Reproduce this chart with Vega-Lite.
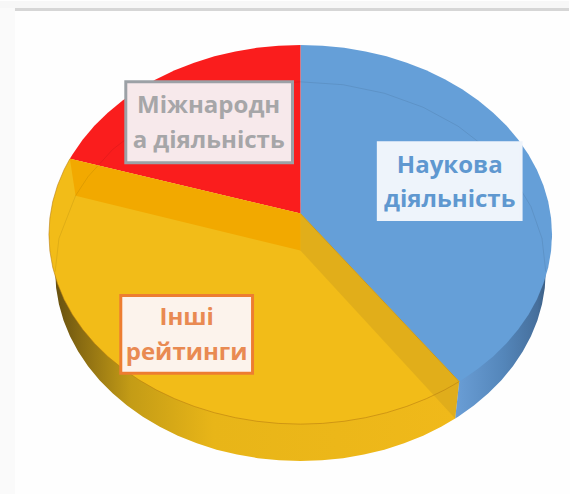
{"$schema":"https://vega.github.io/schema/vega-lite/v6.json","width":570,"height":494,"autosize":{"type":"fit","contains":"padding"},"padding":0,"background":"#FEFEFE","config":{"view":{"stroke":null}},
"datasets":{
"outline":[
{"part":"wallY","i":0,"x":-1,"y":0},{"part":"wallY","i":1,"x":-0.975,"y":-0.1947},{"part":"wallY","i":2,"x":-0.9713,"y":-0.2819},{"part":"wallY","i":3,"x":-0.9602,"y":-0.3683},{"part":"wallY","i":4,"x":-0.9418,"y":-0.4535},{"part":"wallY","i":5,"x":-0.9162,"y":-0.5367},{"part":"wallY","i":6,"x":-0.8836,"y":-0.6173},{"part":"wallY","i":7,"x":-0.8444,"y":-0.6947},{"part":"wallY","i":8,"x":-0.7987,"y":-0.7683},{"part":"wallY","i":9,"x":-0.7469,"y":-0.8375},{"part":"wallY","i":10,"x":-0.6894,"y":-0.9018},{"part":"wallY","i":11,"x":-0.6267,"y":-0.9607},{"part":"wallY","i":12,"x":-0.5593,"y":-1.0139},{"part":"wallY","i":13,"x":-0.4875,"y":-1.0607},{"part":"wallY","i":14,"x":-0.412,"y":-1.101},{"part":"wallY","i":15,"x":-0.3335,"y":-1.1344},{"part":"wallY","i":16,"x":-0.2523,"y":-1.1606},{"part":"wallY","i":17,"x":-0.1693,"y":-1.1795},{"part":"wallY","i":18,"x":-0.085,"y":-1.1909},{"part":"wallY","i":19,"x":0,"y":-1.1947},{"part":"wallY","i":20,"x":0.085,"y":-1.1909},{"part":"wallY","i":21,"x":0.1693,"y":-1.1795},{"part":"wallY","i":22,"x":0.2523,"y":-1.1606},{"part":"wallY","i":23,"x":0.3335,"y":-1.1344},{"part":"wallY","i":24,"x":0.412,"y":-1.101},{"part":"wallY","i":25,"x":0.4875,"y":-1.0607},{"part":"wallY","i":26,"x":0.5593,"y":-1.0139},{"part":"wallY","i":27,"x":0.615,"y":-0.9704},{"part":"wallY","i":28,"x":0.631,"y":-0.7757},
{"part":"wallB","i":0,"x":0.631,"y":-0.7757},{"part":"wallB","i":1,"x":0.615,"y":-0.9704},{"part":"wallB","i":2,"x":0.6267,"y":-0.9607},{"part":"wallB","i":3,"x":0.6894,"y":-0.9018},{"part":"wallB","i":4,"x":0.7469,"y":-0.8375},{"part":"wallB","i":5,"x":0.7987,"y":-0.7683},{"part":"wallB","i":6,"x":0.8444,"y":-0.6947},{"part":"wallB","i":7,"x":0.8836,"y":-0.6173},{"part":"wallB","i":8,"x":0.9162,"y":-0.5367},{"part":"wallB","i":9,"x":0.9418,"y":-0.4535},{"part":"wallB","i":10,"x":0.9602,"y":-0.3683},{"part":"wallB","i":11,"x":0.9713,"y":-0.2819},{"part":"wallB","i":12,"x":0.975,"y":-0.1947},{"part":"wallB","i":13,"x":1,"y":0},
{"part":"blue","i":0,"x":0,"y":0.1105},{"part":"blue","i":1,"x":0,"y":1},{"part":"blue","i":2,"x":0.0872,"y":0.9962},{"part":"blue","i":3,"x":0.1736,"y":0.9848},{"part":"blue","i":4,"x":0.2588,"y":0.9659},{"part":"blue","i":5,"x":0.342,"y":0.9397},{"part":"blue","i":6,"x":0.4226,"y":0.9063},{"part":"blue","i":7,"x":0.5,"y":0.866},{"part":"blue","i":8,"x":0.5736,"y":0.8192},{"part":"blue","i":9,"x":0.6428,"y":0.766},{"part":"blue","i":10,"x":0.7071,"y":0.7071},{"part":"blue","i":11,"x":0.766,"y":0.6428},{"part":"blue","i":12,"x":0.8192,"y":0.5736},{"part":"blue","i":13,"x":0.866,"y":0.5},{"part":"blue","i":14,"x":0.9063,"y":0.4226},{"part":"blue","i":15,"x":0.9397,"y":0.342},{"part":"blue","i":16,"x":0.9659,"y":0.2588},{"part":"blue","i":17,"x":0.9848,"y":0.1736},{"part":"blue","i":18,"x":0.9962,"y":0.0872},{"part":"blue","i":19,"x":1,"y":0},{"part":"blue","i":20,"x":0.9962,"y":-0.0872},{"part":"blue","i":21,"x":0.9848,"y":-0.1736},{"part":"blue","i":22,"x":0.9659,"y":-0.2588},{"part":"blue","i":23,"x":0.9397,"y":-0.342},{"part":"blue","i":24,"x":0.9063,"y":-0.4226},{"part":"blue","i":25,"x":0.866,"y":-0.5},{"part":"blue","i":26,"x":0.8192,"y":-0.5736},{"part":"blue","i":27,"x":0.766,"y":-0.6428},{"part":"blue","i":28,"x":0.7071,"y":-0.7071},{"part":"blue","i":29,"x":0.6428,"y":-0.766},{"part":"blue","i":30,"x":0.631,"y":-0.7757},
{"part":"red","i":0,"x":0,"y":0.1105},{"part":"red","i":1,"x":0,"y":1},{"part":"red","i":2,"x":-0.0872,"y":0.9962},{"part":"red","i":3,"x":-0.1736,"y":0.9848},{"part":"red","i":4,"x":-0.2588,"y":0.9659},{"part":"red","i":5,"x":-0.342,"y":0.9397},{"part":"red","i":6,"x":-0.4226,"y":0.9063},{"part":"red","i":7,"x":-0.5,"y":0.866},{"part":"red","i":8,"x":-0.5736,"y":0.8192},{"part":"red","i":9,"x":-0.6428,"y":0.766},{"part":"red","i":10,"x":-0.7071,"y":0.7071},{"part":"red","i":11,"x":-0.766,"y":0.6428},{"part":"red","i":12,"x":-0.8192,"y":0.5736},{"part":"red","i":13,"x":-0.866,"y":0.5},{"part":"red","i":14,"x":-0.9063,"y":0.4226},{"part":"red","i":15,"x":-0.9167,"y":0.3995},
{"part":"yellow","i":0,"x":0,"y":0.1105},{"part":"yellow","i":1,"x":-0.9167,"y":0.3995},{"part":"yellow","i":2,"x":-0.9397,"y":0.342},{"part":"yellow","i":3,"x":-0.9659,"y":0.2588},{"part":"yellow","i":4,"x":-0.9848,"y":0.1736},{"part":"yellow","i":5,"x":-0.9962,"y":0.0872},{"part":"yellow","i":6,"x":-1,"y":0},{"part":"yellow","i":7,"x":-0.9962,"y":-0.0872},{"part":"yellow","i":8,"x":-0.9848,"y":-0.1736},{"part":"yellow","i":9,"x":-0.9659,"y":-0.2588},{"part":"yellow","i":10,"x":-0.9397,"y":-0.342},{"part":"yellow","i":11,"x":-0.9063,"y":-0.4226},{"part":"yellow","i":12,"x":-0.866,"y":-0.5},{"part":"yellow","i":13,"x":-0.8192,"y":-0.5736},{"part":"yellow","i":14,"x":-0.766,"y":-0.6428},{"part":"yellow","i":15,"x":-0.7071,"y":-0.7071},{"part":"yellow","i":16,"x":-0.6428,"y":-0.766},{"part":"yellow","i":17,"x":-0.5736,"y":-0.8192},{"part":"yellow","i":18,"x":-0.5,"y":-0.866},{"part":"yellow","i":19,"x":-0.4226,"y":-0.9063},{"part":"yellow","i":20,"x":-0.342,"y":-0.9397},{"part":"yellow","i":21,"x":-0.2588,"y":-0.9659},{"part":"yellow","i":22,"x":-0.1736,"y":-0.9848},{"part":"yellow","i":23,"x":-0.0872,"y":-0.9962},{"part":"yellow","i":24,"x":0,"y":-1},{"part":"yellow","i":25,"x":0.0872,"y":-0.9962},{"part":"yellow","i":26,"x":0.1736,"y":-0.9848},{"part":"yellow","i":27,"x":0.2588,"y":-0.9659},{"part":"yellow","i":28,"x":0.342,"y":-0.9397},{"part":"yellow","i":29,"x":0.4226,"y":-0.9063},{"part":"yellow","i":30,"x":0.5,"y":-0.866},{"part":"yellow","i":31,"x":0.5736,"y":-0.8192},{"part":"yellow","i":32,"x":0.631,"y":-0.7757},
{"part":"bandRed","i":0,"x":0,"y":0.1105},{"part":"bandRed","i":1,"x":-0.9167,"y":0.3995},{"part":"bandRed","i":2,"x":-0.894,"y":0.2048},{"part":"bandRed","i":3,"x":0,"y":-0.0842},
{"part":"bandBlue","i":0,"x":0,"y":0.1105},{"part":"bandBlue","i":1,"x":0.631,"y":-0.7757},{"part":"bandBlue","i":2,"x":0.615,"y":-0.9704},{"part":"bandBlue","i":3,"x":0,"y":-0.0842},
{"part":"backLine","i":0,"x":0.975,"y":-0.1947},{"part":"backLine","i":1,"x":0.9602,"y":-0.0211},{"part":"backLine","i":2,"x":0.9162,"y":0.1473},{"part":"backLine","i":3,"x":0.8444,"y":0.3053},{"part":"backLine","i":4,"x":0.7469,"y":0.4481},{"part":"backLine","i":5,"x":0.6267,"y":0.5713},{"part":"backLine","i":6,"x":0.4875,"y":0.6713},{"part":"backLine","i":7,"x":0.3335,"y":0.745},{"part":"backLine","i":8,"x":0.1693,"y":0.7901},{"part":"backLine","i":9,"x":0,"y":0.8053},{"part":"backLine","i":10,"x":-0.1693,"y":0.7901},{"part":"backLine","i":11,"x":-0.3335,"y":0.745},{"part":"backLine","i":12,"x":-0.4875,"y":0.6713},{"part":"backLine","i":13,"x":-0.6267,"y":0.5713},{"part":"backLine","i":14,"x":-0.7469,"y":0.4481},{"part":"backLine","i":15,"x":-0.8444,"y":0.3053},{"part":"backLine","i":16,"x":-0.894,"y":0.2048},{"part":"backLine","i":17,"x":-0.9602,"y":-0.0211},{"part":"backLine","i":18,"x":-0.975,"y":-0.1947},
{"part":"seam","i":0,"x":0,"y":0.1105},{"part":"seam","i":1,"x":0.631,"y":-0.7757}
],
"frame":[
{"part":"topBand","x":-1.1944,"x2":1.0675,"y":1.2316,"y2":1.1947},
{"part":"topRule","x":-1.1349,"x2":1.0675,"y":1.1947,"y2":1.1789},
{"part":"leftBand","x":-1.1944,"x2":-1.1349,"y":1.1947,"y2":-1.3684}
],
"boxes":[
{"label":"Наукова діяльність","x":0.3095,"x2":0.877,"y":0.4842,"y2":0.0789},
{"label":"Міжнародна діяльність","x":-0.6944,"x2":-0.0317,"y":0.8053,"y2":0.3789},
{"label":"Інші рейтинги","x":-0.7143,"x2":-0.1905,"y":-0.3211,"y2":-0.7316}
],
"lines":[
{"label":"Наукова діяльність","text":"Наукова","x":0.5933,"y":0.3632},
{"label":"Наукова діяльність","text":"діяльність","x":0.5933,"y":0.1842},
{"label":"Міжнародна діяльність","text":"Міжнародн","x":-0.3651,"y":0.679},
{"label":"Міжнародна діяльність","text":"а діяльність","x":-0.3651,"y":0.4947},
{"label":"Інші рейтинги","text":"Інші","x":-0.4524,"y":-0.4421},
{"label":"Інші рейтинги","text":"рейтинги","x":-0.4524,"y":-0.6263}
]},
"encoding":{
"x":{"field":"x","type":"quantitative","scale":{"domain":[-1.19444,1.06746],"nice":false,"zero":false},"axis":null},
"y":{"field":"y","type":"quantitative","scale":{"domain":[-1.36842,1.23158],"nice":false,"zero":false},"axis":null}
},
"layer":[
{"data":{"name":"frame"},"transform":[{"filter":"datum.part==='topBand'"}],"mark":{"type":"rect","fill":"#F7F7F7"},"encoding":{"x2":{"field":"x2"},"y2":{"field":"y2"}}},
{"data":{"name":"frame"},"transform":[{"filter":"datum.part==='leftBand'"}],"mark":{"type":"rect","fill":"#FAFAFA"},"encoding":{"x2":{"field":"x2"},"y2":{"field":"y2"}}},
{"data":{"name":"frame"},"transform":[{"filter":"datum.part==='topRule'"}],"mark":{"type":"rect","fill":"#D6D6D6"},"encoding":{"x2":{"field":"x2"},"y2":{"field":"y2"}}},
{"data":{"name":"outline"},"transform":[{"filter":"datum.part==='wallY'"}],"mark":{"type":"line","filled":true,"fill":{"gradient":"linear","x1":0,"y1":0,"x2":1,"y2":0,"stops":[{"offset":0,"color":"#5E4A10"},{"offset":0.08,"color":"#8A6C12"},{"offset":0.2,"color":"#C49C16"},{"offset":0.4,"color":"#E8B518"},{"offset":1,"color":"#F0B91A"}]},"stroke":null},"encoding":{"order":{"field":"i"}}},
{"data":{"name":"outline"},"transform":[{"filter":"datum.part==='wallB'"}],"mark":{"type":"line","filled":true,"fill":{"gradient":"linear","x1":0,"y1":0,"x2":1,"y2":0,"stops":[{"offset":0,"color":"#6A9ED6"},{"offset":0.5,"color":"#5486BA"},{"offset":0.85,"color":"#466F9C"},{"offset":1,"color":"#33506F"}]},"stroke":null},"encoding":{"order":{"field":"i"}}},
{"data":{"name":"outline"},"transform":[{"filter":"datum.part==='blue'"}],"mark":{"type":"line","filled":true,"fill":"#659FD8","stroke":null},"encoding":{"order":{"field":"i"}}},
{"data":{"name":"outline"},"transform":[{"filter":"datum.part==='red'"}],"mark":{"type":"line","filled":true,"fill":"#FA1D1D","stroke":null},"encoding":{"order":{"field":"i"}}},
{"data":{"name":"outline"},"transform":[{"filter":"datum.part==='yellow'"}],"mark":{"type":"line","filled":true,"fill":"#F2BC18","stroke":null},"encoding":{"order":{"field":"i"}}},
{"data":{"name":"outline"},"transform":[{"filter":"datum.part==='bandRed'"}],"mark":{"type":"line","filled":true,"fill":"#F2A900","stroke":null},"encoding":{"order":{"field":"i"}}},
{"data":{"name":"outline"},"transform":[{"filter":"datum.part==='bandBlue'"}],"mark":{"type":"line","filled":true,"fill":"#D5A51C","fillOpacity":0.6,"stroke":null},"encoding":{"order":{"field":"i"}}},
{"data":{"name":"outline"},"transform":[{"filter":"datum.part==='backLine'"}],"mark":{"type":"line","stroke":"#000000","strokeOpacity":0.08,"strokeWidth":1},"encoding":{"order":{"field":"i"}}},
{"data":{"name":"outline"},"transform":[{"filter":"datum.part==='yellow' && datum.i>=1"}],"mark":{"type":"line","stroke":"#B57A10","strokeOpacity":0.7,"strokeWidth":0.8},"encoding":{"order":{"field":"i"}}},
{"data":{"name":"outline"},"transform":[{"filter":"datum.part==='seam'"}],"mark":{"type":"line","stroke":"#B98A1A","strokeOpacity":0.7,"strokeWidth":1},"encoding":{"order":{"field":"i"}}},
{"data":{"name":"boxes"},"mark":{"type":"rect","fill":"#000000","fillOpacity":0.14,"xOffset":3,"yOffset":6},"encoding":{"x2":{"field":"x2"},"y2":{"field":"y2"}}},
{"data":{"name":"boxes"},"mark":{"type":"rect","strokeWidth":3},"encoding":{"x2":{"field":"x2"},"y2":{"field":"y2"},
"fill":{"field":"label","type":"nominal","legend":null,"scale":{"domain":["Наукова діяльність","Міжнародна діяльність","Інші рейтинги"],"range":["#EEF4FB","#F7E9EB","#FCF3EC"]}},
"stroke":{"field":"label","type":"nominal","legend":null,"scale":{"domain":["Наукова діяльність","Міжнародна діяльність","Інші рейтинги"],"range":["#EEF4FB","#9CA1A6","#ED7D31"]}}}},
{"data":{"name":"lines"},"mark":{"type":"text","font":"Open Sans","fontWeight":"bold","fontSize":24,"align":"center","baseline":"middle"},"encoding":{"text":{"field":"text"},
"color":{"field":"label","type":"nominal","legend":null,"scale":{"domain":["Наукова діяльність","Міжнародна діяльність","Інші рейтинги"],"range":["#5F98D0","#A6A6A8","#E98A52"]}}}}
]}
